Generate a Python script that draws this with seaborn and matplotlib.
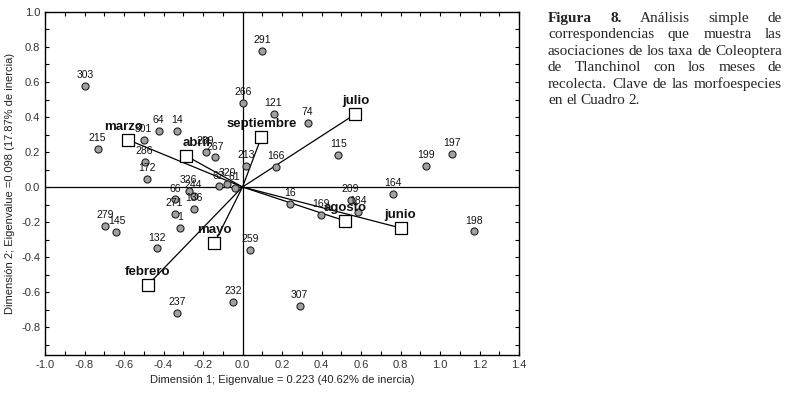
import numpy as np
import pandas as pd
import seaborn as sns
import matplotlib.pyplot as plt
from matplotlib.ticker import MultipleLocator

# ---------------------------------------------------------
# Data
# ---------------------------------------------------------
spp_labels = ["303", "291", "266", "121", "74", "115", "199", "197", "166", "213",
              "164", "64", "14", "301", "215", "286", "172", "289", "267", "326",
              "244", "66", "136", "271", "1", "279", "145", "132", "237", "232",
              "259", "307", "16", "169", "209", "184", "198", "62", "320", "61"]
spp_x = [-0.795, 0.100, 0.005, 0.157, 0.330, 0.486, 0.930, 1.060, 0.170, 0.020,
         0.760, -0.425, -0.334, -0.500, -0.734, -0.496, -0.486, -0.187, -0.137, -0.273,
         -0.248, -0.340, -0.248, -0.344, -0.314, -0.694, -0.638, -0.435, -0.330, -0.046,
         0.040, 0.290, 0.240, 0.395, 0.547, 0.587, 1.170, -0.120, -0.076, -0.040]
spp_y = [0.580, 0.780, 0.480, 0.420, 0.366, 0.183, 0.120, 0.190, 0.114, 0.120,
         -0.040, 0.320, 0.320, 0.270, 0.220, 0.143, 0.046, 0.200, 0.171, -0.023,
         -0.050, -0.069, -0.126, -0.154, -0.234, -0.223, -0.257, -0.349, -0.720, -0.657,
         -0.360, -0.680, -0.097, -0.160, -0.074, -0.140, -0.254, 0.005, 0.020, -0.005]

months = ["marzo", "abril", "septiembre", "julio", "agosto", "junio", "mayo", "febrero"]
month_x = [-0.580, -0.284, 0.096, 0.572, 0.520, 0.800, -0.142, -0.480]
month_y = [0.270, 0.177, 0.286, 0.417, -0.194, -0.234, -0.320, -0.560]

x_label = "Dimensión 1; Eigenvalue = 0.223 (40.62% de inercia)"
y_label = "Dimensión 2; Eigenvalue =0.098 (17.87% de inercia)"

caption_lines = ["Figura 8. Análisis simple de",
                 "correspondencias que muestra las",
                 "asociaciones de los taxa de Coleoptera",
                 "de Tlanchinol con los meses de",
                 "recolecta. Clave de las morfoespecies",
                 "en el Cuadro 2."]

spp = pd.DataFrame({"label": spp_labels, "x": spp_x, "y": spp_y})
mon = pd.DataFrame({"month": months, "x": month_x, "y": month_y})

# ---------------------------------------------------------
# Figure
# ---------------------------------------------------------
sns.set_style("ticks")
plt.rcParams["font.family"] = ["Liberation Sans", "DejaVu Sans"]

W, H = 785, 397
fig = plt.figure(figsize=(W / 100, H / 100), dpi=100)
ax = fig.add_axes([45 / W, 1 - 355 / H, (519 - 45) / W, (355 - 12) / H])

ax.axhline(0, color="black", lw=0.9, zorder=1)
ax.axvline(0, color="black", lw=0.9, zorder=1)

# lines from origin to month points
for mx, my in zip(month_x, month_y):
    ax.plot([0, mx], [0, my], color="black", lw=0.9, zorder=2)

sns.scatterplot(data=spp, x="x", y="y", ax=ax, color="#a0a0a0", edgecolor="#222222",
                linewidth=0.8, s=26, zorder=3, legend=False)
sns.scatterplot(data=mon, x="x", y="y", ax=ax, marker="s", color="white",
                edgecolor="black", linewidth=0.9, s=70, zorder=4, legend=False)

for lab, x, y in zip(spp_labels, spp_x, spp_y):
    ax.annotate(lab, (x, y), xytext=(0, 4), textcoords="offset points",
                ha="center", va="bottom", fontsize=7.5, color="#111111", zorder=5)

for lab, x, y in zip(months, month_x, month_y):
    dx = 7 if lab == "abril" else (-3 if lab == "marzo" else 0)
    ax.annotate(lab, (x, y), xytext=(dx, 5), textcoords="offset points",
                ha="center", va="bottom", fontsize=9.5, fontweight="bold",
                color="#111111", zorder=5)

ax.set_xlim(-1.0, 1.4)
ax.set_ylim(-0.96, 1.0)
ax.xaxis.set_major_locator(MultipleLocator(0.2))
ax.xaxis.set_minor_locator(MultipleLocator(0.1))
ax.yaxis.set_major_locator(MultipleLocator(0.2))
ax.yaxis.set_minor_locator(MultipleLocator(0.1))
ax.set_yticks(np.arange(-0.8, 1.01, 0.2))
ax.set_xticklabels([f"{v:.1f}" for v in ax.get_xticks()])
ax.set_yticklabels([f"{v:.1f}" if abs(v) > 1e-9 else "0.0" for v in ax.get_yticks()])
ax.tick_params(which="both", direction="in", top=True, right=True,
               length=3, width=0.8, labelsize=8, colors="black", labelcolor="#333333")
for sp in ax.spines.values():
    sp.set_linewidth(1.0)
    sp.set_color("black")

ax.set_xlabel(x_label, fontsize=8, color="#222222", labelpad=4)
ax.set_ylabel(y_label, fontsize=8, color="#222222", labelpad=4)

# ---------------------------------------------------------
# Caption (justified, serif)
# ---------------------------------------------------------
fig.canvas.draw()
renderer = fig.canvas.get_renderer()
x0, x1 = 548, 782
y_base = 22
line_h = 16.4
for i, line in enumerate(caption_lines):
    words = line.split(" ")
    weights = ["bold" if (i == 0 and j < 2) else "normal" for j in range(len(words))]
    texts = []
    for w, wt in zip(words, weights):
        t = fig.text(0, 0, w, fontsize=11, fontweight=wt,
                     family=["Liberation Serif", "DejaVu Serif"], va="baseline", ha="left")
        texts.append(t)
    widths = [t.get_window_extent(renderer).width for t in texts]
    if i < len(caption_lines) - 1:
        gap = (x1 - x0 - sum(widths)) / (len(words) - 1)
    else:
        gap = 3.5
    xp = x0
    yp = 1 - (y_base + i * line_h) / H
    for t, w in zip(texts, widths):
        t.set_position((xp / W, yp))
        xp += w + gap

fig.savefig("out.png", dpi=100)
